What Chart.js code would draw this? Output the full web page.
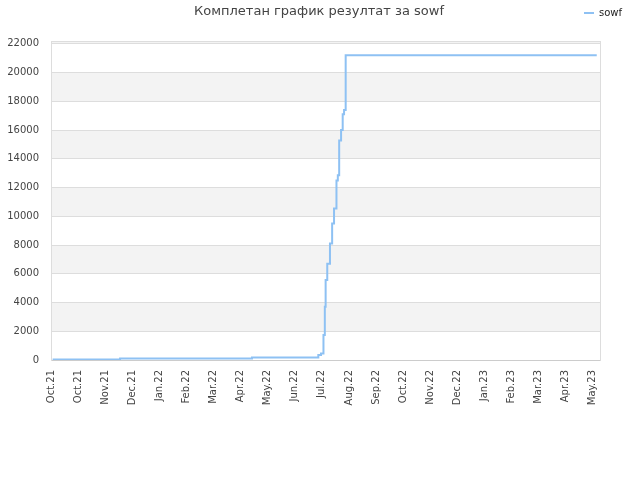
<!DOCTYPE html>
<html>
<head>
<meta charset="utf-8">
<title>sowf</title>
<script src="https://cdn.jsdelivr.net/npm/chart.js@4/dist/chart.umd.min.js"></script>
<style>
  html, body { margin: 0; padding: 0; background: #fff; }
  #wrap { width: 640px; height: 480px; }
</style>
</head>
<body>
<div id="wrap"><canvas id="myChart" width="640" height="480"></canvas></div>
<script>
// x positions are in "tick units" (0 = first Oct.21 tick, 1 tick = ~1 month)
const tickLabels = ['Oct.21', 'Oct.21', 'Nov.21', 'Dec.21', 'Jan.22', 'Feb.22', 'Mar.22', 'Apr.22',
  'May.22', 'Jun.22', 'Jul.22', 'Aug.22', 'Sep.22', 'Oct.22', 'Nov.22', 'Dec.22', 'Jan.23',
  'Feb.23', 'Mar.23', 'Apr.23', 'May.23'];
const yTicks = [0, 2000, 4000, 6000, 8000, 10000, 12000, 14000, 16000, 18000, 20000, 22000];
const stepPos = [0.06, 2.55, 7.42, 9.87, 9.97, 10.06, 10.11, 10.14, 10.20, 10.30, 10.38, 10.45,
  10.54, 10.59, 10.64, 10.71, 10.77, 10.82, 10.88, 20.15];
const scores = [30, 100, 180, 350, 460, 1740, 3700, 5560, 6700, 8100, 9500, 10550,
  12500, 12850, 15280, 16000, 17100, 17400, 21200, 21200];
const seriesName = 'sowf';
const chartTitle = 'Комплетан график резултат за sowf';

const points = stepPos.map((x, i) => ({x: x, y: scores[i]}));

// grey/white bands behind the grid + title text
const bands = {
  id: 'bands',
  beforeDraw(chart) {
    const {ctx, chartArea, scales} = chart;
    const y = scales.y;
    ctx.save();
    ctx.fillStyle = '#f3f3f3';
    for (let v = 0, i = 0; v < y.max; v += 2000, i++) {
      if (i % 2 === 0) continue;
      const top = y.getPixelForValue(Math.min(v + 2000, y.max));
      const bot = y.getPixelForValue(v);
      ctx.fillRect(chartArea.left, top, chartArea.right - chartArea.left, bot - top);
    }
    ctx.restore();
  },
  afterDraw(chart) {
    const ctx = chart.ctx;
    ctx.save();
    ctx.font = '13px "DejaVu Sans"';
    ctx.fillStyle = '#444';
    ctx.textAlign = 'center';
    ctx.textBaseline = 'middle';
    ctx.fillText(chartTitle, 319, 12);
    ctx.restore();
  }
};

const cxt = document.getElementById('myChart').getContext('2d');
const myChart = new Chart(cxt, {
  type: 'line',
  data: {
    datasets: [{
      label: seriesName,
      data: points,
      borderColor: '#8ec1f3',
      backgroundColor: '#8ec1f3',
      borderWidth: 2,
      pointRadius: 0,
      stepped: true,
      fill: false
    }]
  },
  options: {
    responsive: false,
    animation: false,
    layout: { padding: { top: 0, right: 10, bottom: 0, left: 0 } },
    plugins: {
      title: { display: false },
      tooltip: { enabled: false },
      legend: {
        position: 'top',
        align: 'end',
        labels: {
          usePointStyle: true,
          pointStyle: 'line',
          pointStyleWidth: 10,
          padding: 8,
          color: '#222',
          font: { family: 'DejaVu Sans', size: 10 }
        }
      }
    },
    scales: {
      x: {
        type: 'linear',
        min: 0,
        max: 20.27,
        grid: { display: false, drawTicks: false },
        border: { display: true, color: '#ccc' },
        ticks: {
          stepSize: 1,
          autoSkip: false,
          includeBounds: false,
          minRotation: 90,
          maxRotation: 90,
          padding: 10,
          color: '#444',
          font: { family: 'DejaVu Sans', size: 10 },
          callback: (v) => tickLabels[v]
        },
        afterFit(s) { s.height = 120; }
      },
      xTop: {
        type: 'linear',
        position: 'top',
        display: true,
        grid: { display: false, drawTicks: false },
        border: { display: true, color: '#ddd' },
        ticks: { display: false },
        afterFit(s) { s.height = 13; }
      },
      y: {
        min: 0,
        max: 22200,
        grid: { color: '#ddd', drawTicks: false },
        border: { display: true, color: '#ddd' },
        ticks: {
          padding: 12,
          color: '#444',
          font: { family: 'DejaVu Sans', size: 10 },
          callback: (v) => String(v)
        },
        afterBuildTicks(s) { s.ticks = yTicks.map(v => ({value: v})); },
        afterFit(s) { s.width = 51; }
      },
      yRight: {
        position: 'right',
        display: true,
        grid: { display: false, drawTicks: false },
        border: { display: true, color: '#ddd' },
        ticks: { display: false },
        afterFit(s) { s.width = 30; }
      }
    }
  },
  plugins: [bands]
});
</script>
</body>
</html>
